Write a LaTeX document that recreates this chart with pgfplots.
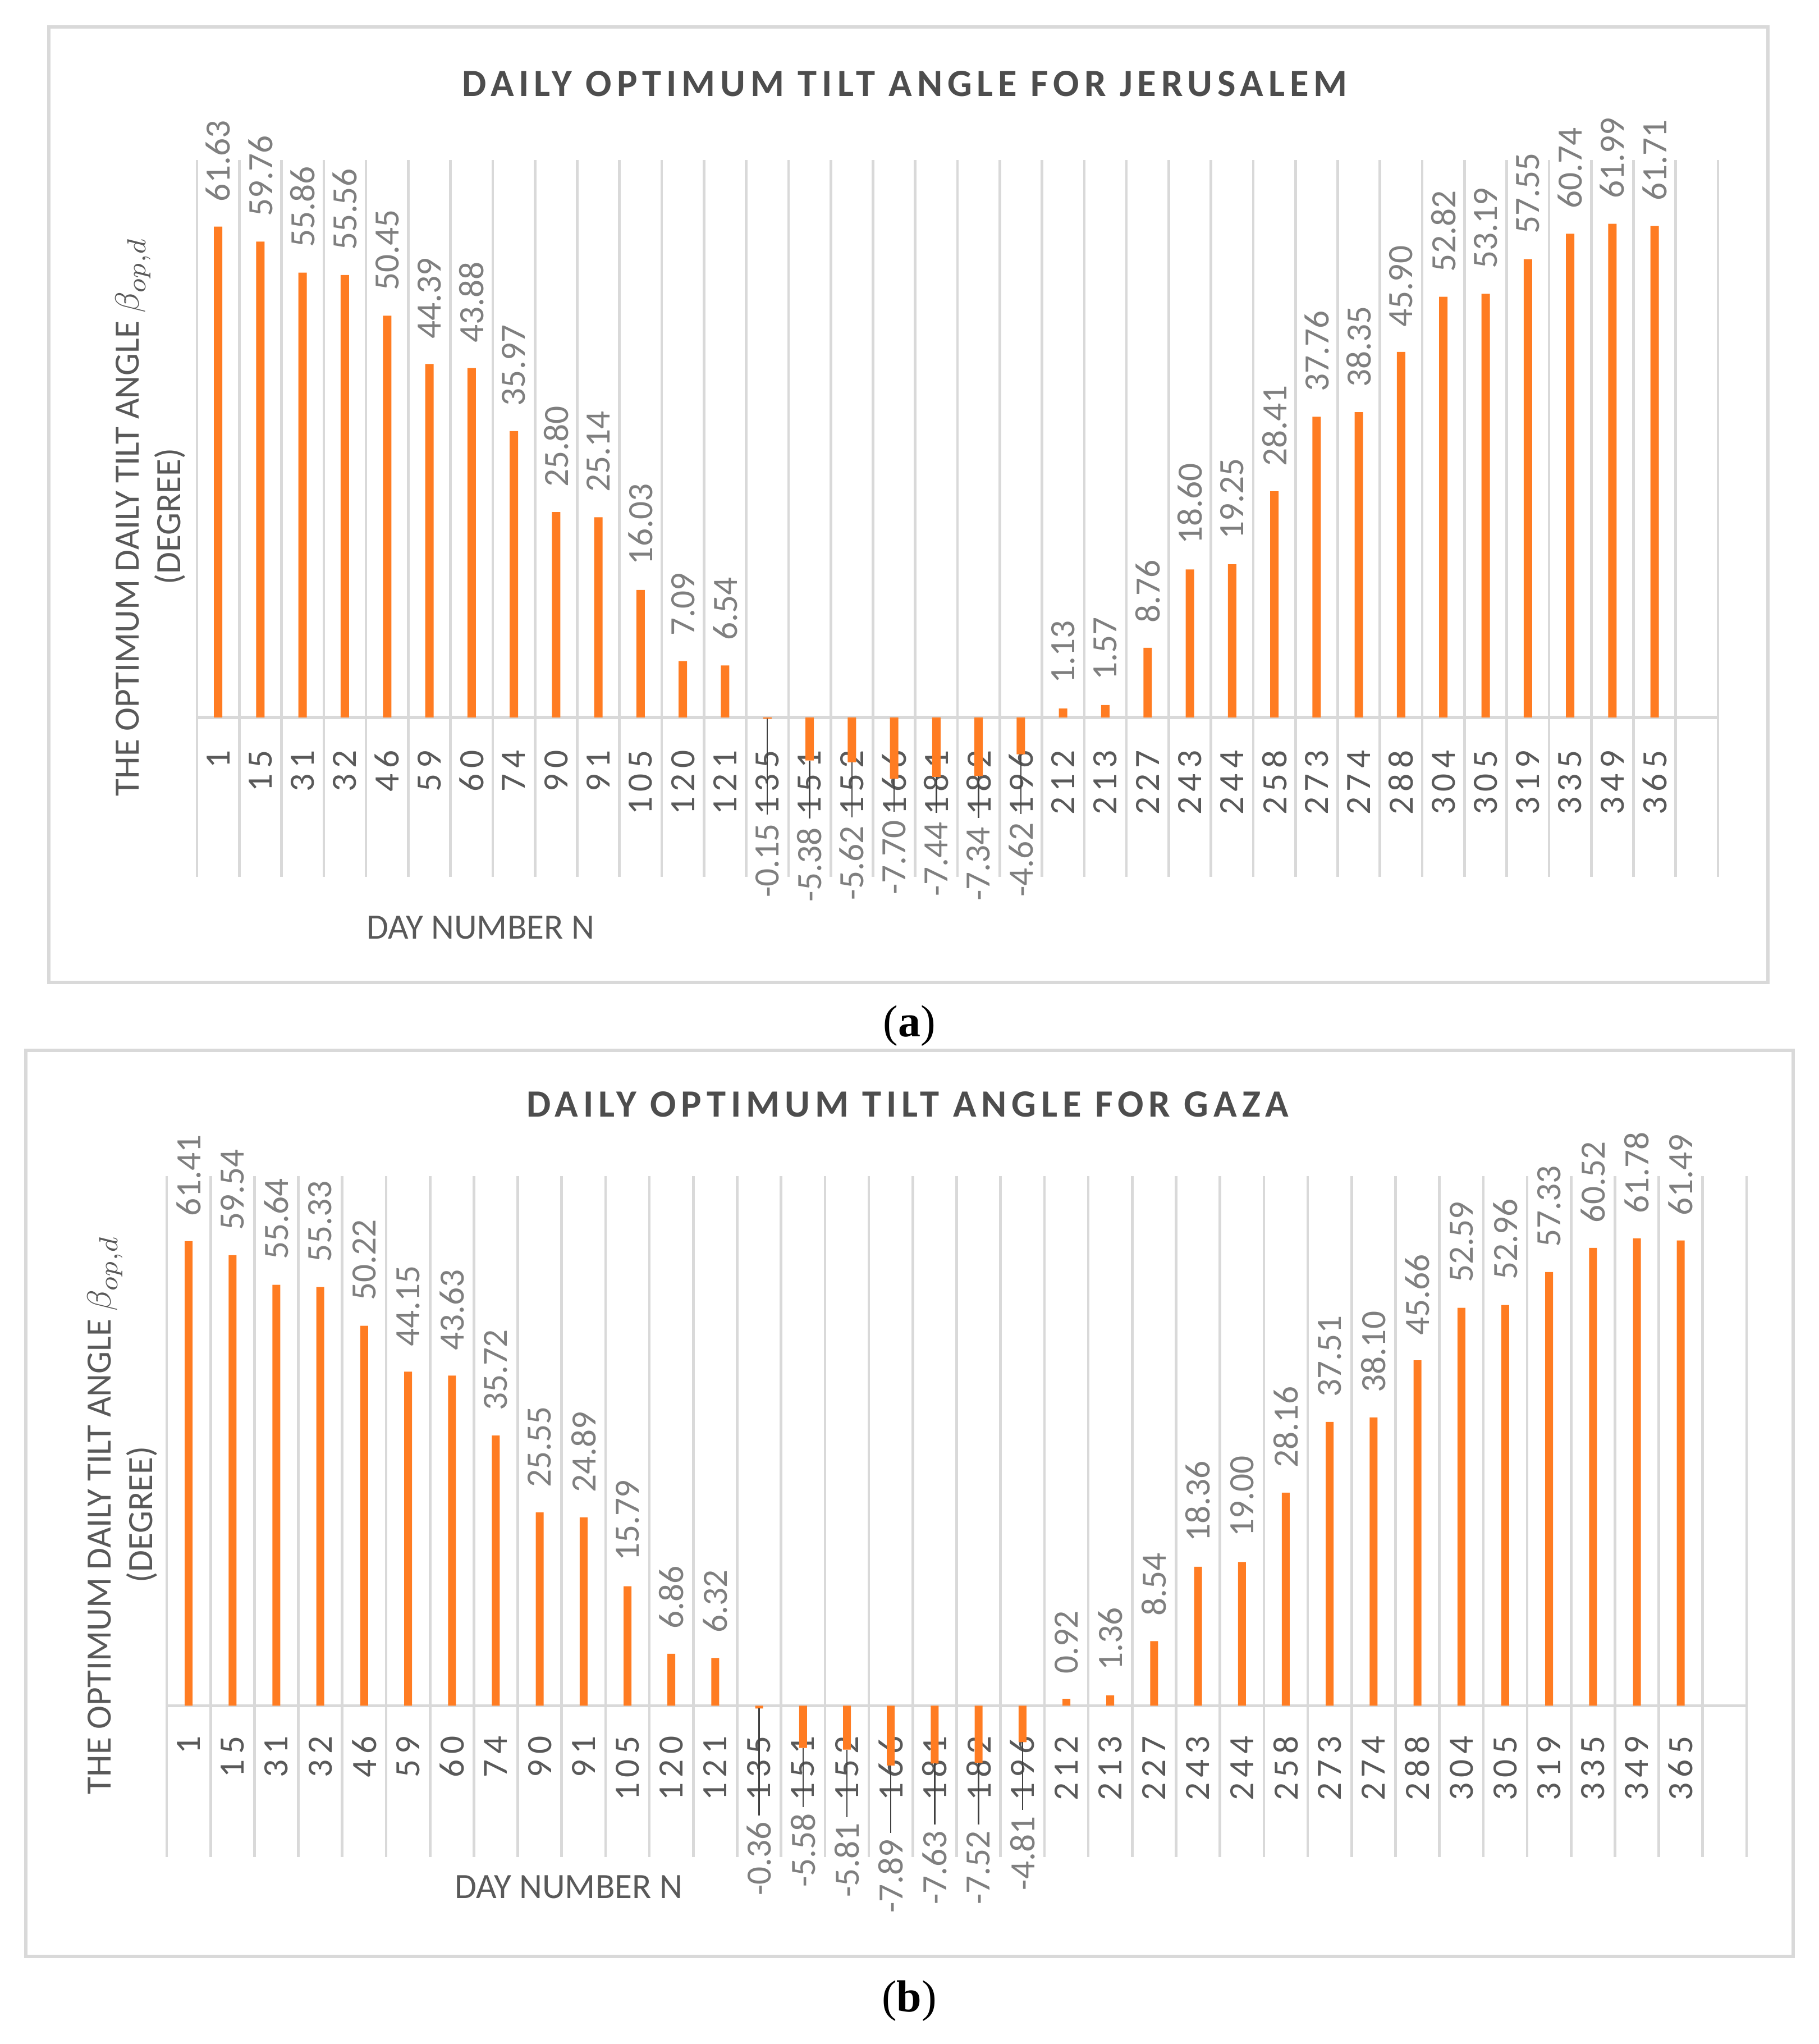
\documentclass[border=0pt]{standalone}
\usepackage{fontspec}
\setmainfont{Carlito}
\newfontfamily\tickfont{Carlito}[LetterSpace=15]
\newfontfamily\titlefont{Carlito}[LetterSpace=13]
\newfontfamily\capfont{Liberation Serif}
\usepackage{pgfplots}
\usepackage{pgfplotstable}
\pgfplotsset{compat=1.18}
\definecolor{barorange}{HTML}{FF7C22}
\definecolor{gridgray}{HTML}{D9D9D9}
\definecolor{framegray}{HTML}{D9D9D9}
\definecolor{txtgray}{HTML}{595959}
\definecolor{titlegray}{HTML}{4D4D4D}
\definecolor{lblgray}{HTML}{7F7F7F}

% ---------------- Jerusalem ----------------
\pgfplotstableread{
x y
0.5 61.63
1.5 59.76
2.5 55.86
3.5 55.56
4.5 50.45
5.5 44.39
6.5 43.88
7.5 35.97
8.5 25.80
9.5 25.14
10.5 16.03
11.5 7.09
12.5 6.54
13.5 -0.15
14.5 -5.38
15.5 -5.62
16.5 -7.70
17.5 -7.44
18.5 -7.34
19.5 -4.62
20.5 1.13
21.5 1.57
22.5 8.76
23.5 18.60
24.5 19.25
25.5 28.41
26.5 37.76
27.5 38.35
28.5 45.90
29.5 52.82
30.5 53.19
31.5 57.55
32.5 60.74
33.5 61.99
34.5 61.71
}\barsA

\pgfplotstableread{
x y lab
0.5 61.63 61.63
1.5 59.76 59.76
2.5 55.86 55.86
3.5 55.56 55.56
4.5 50.45 50.45
5.5 44.39 44.39
6.5 43.88 43.88
7.5 35.97 35.97
8.5 25.80 25.80
9.5 25.14 25.14
10.5 16.03 16.03
11.5 7.09 7.09
12.5 6.54 6.54
20.5 1.13 1.13
21.5 1.57 1.57
22.5 8.76 8.76
23.5 18.60 18.60
24.5 19.25 19.25
25.5 28.41 28.41
26.5 37.76 37.76
27.5 38.35 38.35
28.5 45.90 45.90
29.5 52.82 52.82
30.5 53.19 53.19
31.5 57.55 57.55
32.5 60.74 60.74
33.5 61.99 61.99
34.5 61.71 61.71
}\posA

\pgfplotstableread{
x lb lab
13.5 -22.7 -0.15
14.5 -23.2 -5.38
15.5 -23.0 -5.62
16.5 -22.3 -7.70
17.5 -22.5 -7.44
18.5 -23.1 -7.34
19.5 -22.6 -4.62
}\negA

% ---------------- Gaza ----------------
\pgfplotstableread{
x y
0.5 61.41
1.5 59.54
2.5 55.64
3.5 55.33
4.5 50.22
5.5 44.15
6.5 43.63
7.5 35.72
8.5 25.55
9.5 24.89
10.5 15.79
11.5 6.86
12.5 6.32
13.5 -0.36
14.5 -5.58
15.5 -5.81
16.5 -7.89
17.5 -7.63
18.5 -7.52
19.5 -4.81
20.5 0.92
21.5 1.36
22.5 8.54
23.5 18.36
24.5 19.00
25.5 28.16
26.5 37.51
27.5 38.10
28.5 45.66
29.5 52.59
30.5 52.96
31.5 57.33
32.5 60.52
33.5 61.78
34.5 61.49
}\barsB

\pgfplotstableread{
x y lab
0.5 61.41 61.41
1.5 59.54 59.54
2.5 55.64 55.64
3.5 55.33 55.33
4.5 50.22 50.22
5.5 44.15 44.15
6.5 43.63 43.63
7.5 35.72 35.72
8.5 25.55 25.55
9.5 24.89 24.89
10.5 15.79 15.79
11.5 6.86 6.86
12.5 6.32 6.32
20.5 0.92 0.92
21.5 1.36 1.36
22.5 8.54 8.54
23.5 18.36 18.36
24.5 19.00 19.00
25.5 28.16 28.16
26.5 37.51 37.51
27.5 38.10 38.10
28.5 45.66 45.66
29.5 52.59 52.59
30.5 52.96 52.96
31.5 57.33 57.33
32.5 60.52 60.52
33.5 61.78 61.78
34.5 61.49 61.49
}\posB

\pgfplotstableread{
x lb lab
13.5 -25.2 -0.36
14.5 -24.1 -5.58
15.5 -25.4 -5.81
16.5 -27.5 -7.89
17.5 -26.4 -7.63
18.5 -26.4 -7.52
19.5 -24.5 -4.81
}\negB

\pgfplotsset{
  mychart/.style={
    scale only axis, clip=false,
    xmin=0, xmax=36, ymin=-20, ymax=70,
    axis line style={draw=none},
    ytick=\empty,
    extra y ticks={0}, extra y tick labels={},
    extra y tick style={grid=major, major grid style={draw=gridgray, line width=0.85pt}},
    xtick={0.5,1.5,...,35.5},
    minor xtick={0,1,...,36},
    xminorgrids=true,
    minor grid style={draw=gridgray, line width=0.7pt},
    major tick length=0pt, minor tick length=0pt,
    xticklabels={1,15,31,32,46,59,60,74,90,91,105,120,121,135,151,152,166,181,182,196,212,213,227,243,244,258,273,274,288,304,305,319,335,349,365,{}},
  },
  poslab/.style={draw=none, nodes near coords, point meta=explicit symbolic,
    every node near coord/.append style={rotate=90, anchor=west, inner xsep=6.5pt, inner ysep=0pt,
      font=\fontsize{9.5}{11}\selectfont, text=lblgray}},
  neglab/.style={draw=none, nodes near coords, point meta=explicit symbolic,
    every node near coord/.append style={rotate=90, anchor=west, inner xsep=0pt, inner ysep=0pt,
      font=\fontsize{9.5}{11}\selectfont, text=lblgray}},
  leader/.style={draw=black!75, line width=0.35pt},
}

\begin{document}
\begin{tikzpicture}
\path[use as bounding box] (0,0) rectangle (486.15pt,546.15pt);

% ===== Chart (a) =====
\draw[framegray, line width=0.8pt] (13.05pt,283.65pt) rectangle (472.5pt,538.95pt);
\begin{axis}[mychart, at={(52.65pt,311.85pt)}, anchor=south west,
  width=406.5pt, height=191.55pt,
  xticklabel style={yshift=34.0pt, rotate=90, anchor=east, inner sep=0pt,
    font=\tickfont\fontsize{9.5}{11}\selectfont, text=txtgray}]
\addplot[ybar, bar width=2.25pt, fill=barorange, draw=none] table[x=x,y=y]{\barsA};
\addplot[poslab] table[x=x,y=y,meta=lab]{\posA};
\addplot[neglab] table[x=x,y=lb,meta=lab]{\negA};
\addplot[leader] coordinates {(13.5,-0.15) (13.5,-12.2)};
\addplot[leader] coordinates {(14.5,-5.38) (14.5,-12.7)};
\addplot[leader] coordinates {(15.5,-5.62) (15.5,-12.5)};
\addplot[leader] coordinates {(16.5,-7.70) (16.5,-11.8)};
\addplot[leader] coordinates {(17.5,-7.44) (17.5,-12.0)};
\addplot[leader] coordinates {(18.5,-7.34) (18.5,-12.6)};
\addplot[leader] coordinates {(19.5,-4.62) (19.5,-12.1)};
\end{axis}
\node[text=titlegray] at (241.8pt,523.8pt) {\titlefont\bfseries\fontsize{10.3}{12}\selectfont DAILY OPTIMUM TILT ANGLE FOR JERUSALEM};
\node[rotate=90, align=center, text=txtgray, font=\fontsize{9.5}{11}\selectfont] at (40.2pt,408.15pt)
  {THE OPTIMUM DAILY TILT ANGLE $\beta_{op,d}$\\(DEGREE)};
\node[text=txtgray, font=\fontsize{9.5}{11}\selectfont] at (128.4pt,298.35pt) {DAY NUMBER N};
\node at (243pt,272pt) {\capfont\fontsize{12}{14}\selectfont (\textbf{a})};

% ===== Chart (b) =====
\draw[framegray, line width=0.8pt] (6.9pt,23.4pt) rectangle (479.25pt,265.5pt);
\begin{axis}[mychart, at={(44.55pt,49.95pt)}, anchor=south west,
  width=422.25pt, height=181.95pt,
  xticklabel style={yshift=32.5pt, rotate=90, anchor=east, inner sep=0pt,
    font=\tickfont\fontsize{9.5}{11}\selectfont, text=txtgray}]
\addplot[ybar, bar width=2.1pt, fill=barorange, draw=none] table[x=x,y=y]{\barsB};
\addplot[poslab] table[x=x,y=y,meta=lab]{\posB};
\addplot[neglab] table[x=x,y=lb,meta=lab]{\negB};
\addplot[leader] coordinates {(13.5,-0.36) (13.5,-14.5)};
\addplot[leader] coordinates {(14.5,-5.58) (14.5,-13.4)};
\addplot[leader] coordinates {(15.5,-5.81) (15.5,-14.7)};
\addplot[leader] coordinates {(16.5,-7.89) (16.5,-16.8)};
\addplot[leader] coordinates {(17.5,-7.63) (17.5,-15.7)};
\addplot[leader] coordinates {(18.5,-7.52) (18.5,-15.7)};
\addplot[leader] coordinates {(19.5,-4.81) (19.5,-13.8)};
\end{axis}
\node[text=titlegray] at (242.55pt,251.1pt) {\titlefont\bfseries\fontsize{10.3}{12}\selectfont DAILY OPTIMUM TILT ANGLE FOR GAZA};
\node[rotate=90, align=center, text=txtgray, font=\fontsize{9.5}{11}\selectfont] at (32.7pt,141.45pt)
  {THE OPTIMUM DAILY TILT ANGLE $\beta_{op,d}$\\(DEGREE)};
\node[text=txtgray, font=\fontsize{9.5}{11}\selectfont] at (151.95pt,42pt) {DAY NUMBER N};
\node at (243pt,11.5pt) {\capfont\fontsize{12}{14}\selectfont (\textbf{b})};
\end{tikzpicture}
\end{document}
